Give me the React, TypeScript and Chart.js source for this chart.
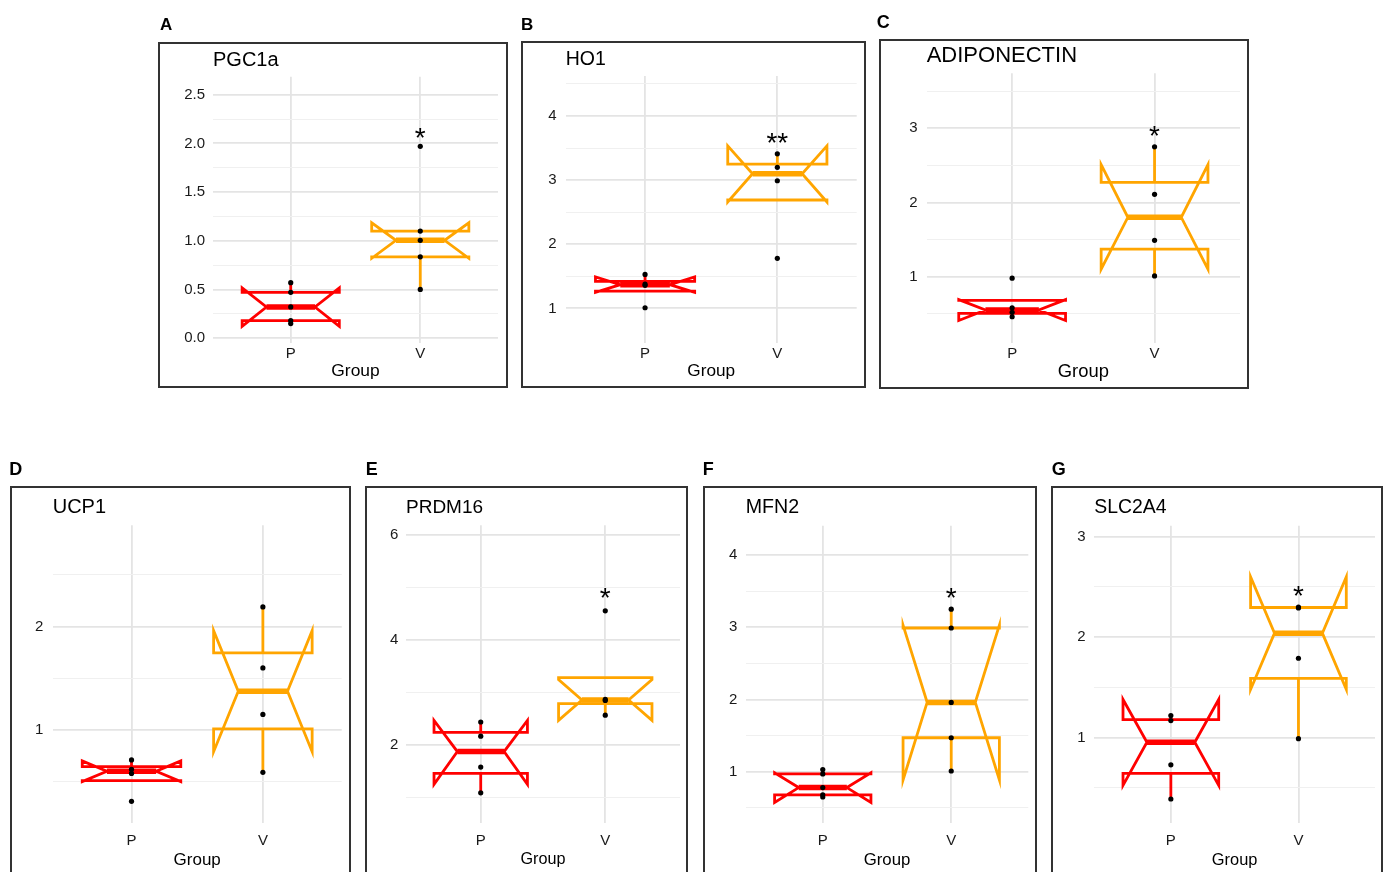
import React, { useEffect, useRef } from 'react';
import { Chart, registerables } from 'chart.js';

Chart.register(...registerables);

// ---------------- data ----------------
const PANEL_LETTERS = ['A', 'B', 'C', 'D', 'E', 'F', 'G'];
const GENES = ['PGC1a', 'HO1', 'ADIPONECTIN', 'UCP1', 'PRDM16', 'MFN2', 'SLC2A4'];
const GROUPS = ['P', 'V'];
const X_TITLE = 'Group';

const P_POINTS = [
  [0.57, 0.47, 0.32, 0.18, 0.15],
  [1.53, 1.38, 1.36, 1.01],
  [0.98, 0.58, 0.52, 0.46],
  [0.71, 0.62, 0.58, 0.31],
  [2.44, 2.17, 1.58, 1.09],
  [1.03, 0.97, 0.78, 0.68, 0.65],
  [1.22, 1.17, 0.73, 0.39],
];
const V_POINTS = [
  [1.97, 1.1, 1.005, 0.835, 0.5],
  [3.41, 3.2, 2.99, 1.78],
  [2.75, 2.11, 1.49, 1.01],
  [2.19, 1.6, 1.15, 0.59],
  [4.56, 2.87, 2.85, 2.57],
  [3.25, 2.99, 1.96, 1.47, 1.01],
  [2.3, 2.29, 1.79, 0.99],
];

const P_Q1 = [0.18, 1.27, 0.505, 0.51, 1.46, 0.68, 0.645];
const P_MEDIAN = [0.32, 1.37, 0.55, 0.6, 1.875, 0.78, 0.955];
const P_Q3 = [0.47, 1.42, 0.68, 0.645, 2.24, 0.97, 1.18];
const P_NOTCH_LO = [0.12, 1.25, 0.41, 0.5, 1.25, 0.575, 0.525];
const P_NOTCH_HI = [0.515, 1.49, 0.69, 0.7, 2.47, 0.985, 1.38];
const P_WHISKER_LO = [0.15, 1.27, 0.46, 0.51, 1.09, 0.65, 0.39];
const P_WHISKER_HI = [0.57, 1.53, 0.68, 0.71, 2.44, 1.03, 1.22];

const V_Q1 = [0.835, 2.69, 1.37, 1.01, 2.79, 1.47, 1.59];
const V_MEDIAN = [1.005, 3.1, 1.8, 1.375, 2.86, 1.96, 2.04];
const V_Q3 = [1.1, 3.25, 2.27, 1.745, 3.285, 2.99, 2.295];
const V_NOTCH_LO = [0.82, 2.66, 1.1, 0.79, 2.47, 0.886, 1.48];
const V_NOTCH_HI = [1.185, 3.535, 2.51, 1.96, 3.25, 3.03, 2.6];
const V_WHISKER_LO = [0.5, 2.69, 1.01, 0.59, 2.57, 1.01, 0.99];
const V_WHISKER_HI = [1.1, 3.41, 2.75, 2.19, 3.285, 3.25, 2.295];

const SIG_LABELS = ['*', '**', '*', '', '*', '*', '*'];
const SIG_Y = [2.11, 3.66, 2.96, 0, 4.9, 3.48, 2.46];

const Y_MIN = [-0.05, 0.46, 0.106, 0.1, 0.514, 0.29, 0.151];
const Y_MAX = [2.685, 4.624, 3.741, 2.98, 6.19, 4.406, 3.109];
const Y_MAJOR = [[0, 0.5, 1, 1.5, 2, 2.5], [1, 2, 3, 4], [1, 2, 3], [1, 2], [2, 4, 6], [1, 2, 3, 4], [1, 2, 3]];
const Y_MINOR = [[0.25, 0.75, 1.25, 1.75, 2.25], [1.5, 2.5, 3.5, 4.5], [0.5, 1.5, 2.5, 3.5], [0.5, 1.5, 2.5], [1, 3, 5], [0.5, 1.5, 2.5, 3.5], [0.5, 1.5, 2.5]];
const Y_DECIMALS = [1, 0, 0, 0, 0, 0, 0];

// ---------------- layout / style (page pixels) ----------------
const LAYOUT = [
  { box: [158, 42, 508, 388], plot: [213, 76.7, 498, 343], yLabelRight: 205, titleY: 60.3, titleSize: 20, groupSize: 17.4, tickY: 354, groupY: 371.7, letter: [160, 24.5], letterSize: 17 },
  { box: [521, 41, 866, 388], plot: [565.7, 76, 856.7, 343], yLabelRight: 556.7, titleY: 60, titleSize: 19.5, groupSize: 17.2, tickY: 354, groupY: 371.7, letter: [521, 24.5], letterSize: 17 },
  { box: [879, 39, 1249, 389], plot: [926.7, 73.3, 1240, 343], yLabelRight: 917.7, titleY: 56.3, titleSize: 22, groupSize: 18.4, tickY: 353.5, groupY: 371.7, letter: [876.7, 21.7], letterSize: 18 },
  { box: [10, 486, 351, 880], plot: [52.7, 525.3, 341.7, 823], yLabelRight: 43.3, titleY: 507.5, titleSize: 20, groupSize: 17, tickY: 840.7, groupY: 860, letter: [9.3, 469], letterSize: 18 },
  { box: [365, 486, 688, 880], plot: [406, 525.3, 680, 823], yLabelRight: 398.3, titleY: 507.5, titleSize: 19, groupSize: 16.2, tickY: 840.7, groupY: 860, letter: [365.7, 469], letterSize: 18 },
  { box: [703, 486, 1037, 880], plot: [745.7, 525.7, 1028.3, 823], yLabelRight: 737.3, titleY: 507.5, titleSize: 19.6, groupSize: 16.8, tickY: 840.7, groupY: 860, letter: [702.7, 469], letterSize: 18 },
  { box: [1051, 486, 1383, 880], plot: [1094.3, 525.7, 1375, 823], yLabelRight: 1085.7, titleY: 507.5, titleSize: 19.4, groupSize: 16.4, tickY: 840.7, groupY: 860, letter: [1051.7, 469], letterSize: 18 },
];

const FONT = "'Liberation Sans', Arial, Helvetica, sans-serif";
const COLORS = ['#FF0000', '#FFA500'];
const BOX_HALF = 0.375;
const NOTCH_INDENT = 0.1875;
const TICK_SIZE = 15;
const STAR_SIZE = 28;
const GRID_MAJOR = '#e4e4e4';
const GRID_MINOR = '#f0f0f0';

function Panel({ i }: { i: number }) {
  const ref = useRef<HTMLCanvasElement | null>(null);
  const L = LAYOUT[i];
  const bl = Math.round(L.box[0]);
  const bt = Math.round(L.box[1]);
  const cw = Math.round(L.box[2]) - bl;
  const ch = Math.round(L.box[3]) - bt;

  useEffect(() => {
    const [pl, pt, pr, pb] = L.plot;
    const titleLH = L.titleSize * 1.2;
    const groupLH = L.groupSize * 1.2;
    const tickLH = TICK_SIZE * 1.2;
    const xAxisH = L.groupY - pb + groupLH / 2;
    const titlePadTop = L.titleY - bt - titleLH / 2;
    const titlePadBottom = pt - bt - titlePadTop - titleLH;
    const majors = Y_MAJOR[i];
    const minors = Y_MINOR[i];
    const yTicks = [...majors, ...minors].sort((a, b) => a - b);

    const stats = [
      { q1: P_Q1[i], med: P_MEDIAN[i], q3: P_Q3[i], nlo: P_NOTCH_LO[i], nhi: P_NOTCH_HI[i], wlo: P_WHISKER_LO[i], whi: P_WHISKER_HI[i] },
      { q1: V_Q1[i], med: V_MEDIAN[i], q3: V_Q3[i], nlo: V_NOTCH_LO[i], nhi: V_NOTCH_HI[i], wlo: V_WHISKER_LO[i], whi: V_WHISKER_HI[i] },
    ];

    const lineBase = { showLine: true, pointRadius: 0, pointHoverRadius: 0, fill: false, tension: 0 };
    const datasets: any[] = [];
    datasets.push({
      label: 'points',
      data: [...P_POINTS[i].map((y) => ({ x: 1, y })), ...V_POINTS[i].map((y) => ({ x: 2, y }))],
      showLine: false,
      pointRadius: 2.6,
      pointHoverRadius: 2.6,
      pointBackgroundColor: '#000',
      pointBorderColor: '#000',
      pointBorderWidth: 0,
    });
    stats.forEach((s, g) => {
      const x = g + 1;
      datasets.push({
        ...lineBase,
        label: 'median ' + GROUPS[g],
        data: [{ x: x - NOTCH_INDENT, y: s.med }, { x: x + NOTCH_INDENT, y: s.med }],
        borderColor: COLORS[g],
        borderWidth: 5.5,
        borderCapStyle: 'butt',
      });
    });
    stats.forEach((s, g) => {
      const x = g + 1;
      const a = x - BOX_HALF;
      const b = x + BOX_HALF;
      datasets.push({
        ...lineBase,
        label: 'box ' + GROUPS[g],
        data: [
          { x: a, y: s.q3 }, { x: a, y: s.nhi }, { x: a + NOTCH_INDENT, y: s.med }, { x: a, y: s.nlo }, { x: a, y: s.q1 },
          { x: b, y: s.q1 }, { x: b, y: s.nlo }, { x: b - NOTCH_INDENT, y: s.med }, { x: b, y: s.nhi }, { x: b, y: s.q3 },
          { x: a, y: s.q3 },
        ],
        borderColor: COLORS[g],
        borderWidth: 2.8,
        borderJoinStyle: 'miter',
        borderCapStyle: 'square',
      });
    });
    stats.forEach((s, g) => {
      const x = g + 1;
      datasets.push({ ...lineBase, label: 'whisker hi ' + GROUPS[g], data: [{ x, y: s.q3 }, { x, y: s.whi }], borderColor: COLORS[g], borderWidth: 2.8, borderCapStyle: 'butt' });
      datasets.push({ ...lineBase, label: 'whisker lo ' + GROUPS[g], data: [{ x, y: s.q1 }, { x, y: s.wlo }], borderColor: COLORS[g], borderWidth: 2.8, borderCapStyle: 'butt' });
    });

    const sigPlugin = {
      id: 'sig' + i,
      afterDatasetsDraw(chart: any) {
        const label = SIG_LABELS[i];
        if (!label) return;
        const ctx = chart.ctx;
        const x = chart.scales.x.getPixelForValue(2);
        const y = chart.scales.y.getPixelForValue(SIG_Y[i]);
        ctx.save();
        ctx.font = `${STAR_SIZE}px ${FONT}`;
        ctx.fillStyle = '#000';
        ctx.textAlign = 'center';
        ctx.textBaseline = 'alphabetic';
        const m = ctx.measureText(label);
        const base = y + (m.actualBoundingBoxAscent - m.actualBoundingBoxDescent) / 2;
        ctx.fillText(label, x, base);
        ctx.restore();
      },
    };

    const chart = new Chart(ref.current as HTMLCanvasElement, {
      type: 'scatter',
      data: { datasets },
      plugins: [sigPlugin],
      options: {
        responsive: false,
        animation: false,
        devicePixelRatio: 1,
        events: [],
        font: { family: FONT },
        layout: { padding: { left: 0, top: 0, right: bl + cw - pr, bottom: bt + ch - pb - xAxisH } },
        plugins: {
          legend: { display: false },
          tooltip: { enabled: false },
          title: {
            display: true,
            text: GENES[i],
            align: 'start',
            fullSize: false,
            color: '#000',
            font: { family: FONT, size: L.titleSize, weight: 'normal', lineHeight: 1.2 },
            padding: { top: titlePadTop, bottom: titlePadBottom },
          },
        },
        scales: {
          x: {
            type: 'linear',
            min: 0.4,
            max: 2.6,
            afterBuildTicks: (s: any) => { s.ticks = [1, 2].map((v) => ({ value: v })); },
            afterFit: (s: any) => { s.height = xAxisH; },
            ticks: {
              autoSkip: false,
              maxRotation: 0,
              padding: L.tickY - pb - tickLH / 2,
              color: '#1a1a1a',
              font: { family: FONT, size: TICK_SIZE, lineHeight: 1.2 },
              callback: (v: any) => GROUPS[Math.round(Number(v)) - 1] ?? '',
            },
            grid: { color: GRID_MAJOR, lineWidth: 1.8, drawTicks: false },
            border: { display: false },
            title: { display: true, text: X_TITLE, color: '#000', font: { family: FONT, size: L.groupSize, lineHeight: 1.2 }, padding: 0 },
          },
          y: {
            type: 'linear',
            min: Y_MIN[i],
            max: Y_MAX[i],
            afterBuildTicks: (s: any) => { s.ticks = yTicks.map((v) => ({ value: v })); },
            afterFit: (s: any) => { s.width = pl - bl; },
            ticks: {
              autoSkip: false,
              padding: pl - L.yLabelRight,
              color: '#1a1a1a',
              font: { family: FONT, size: TICK_SIZE, lineHeight: 1.2 },
              callback: (v: any) => (majors.includes(Number(v)) ? Number(v).toFixed(Y_DECIMALS[i]) : ''),
            },
            grid: {
              drawTicks: false,
              color: (c: any) => (c.tick && majors.includes(c.tick.value) ? GRID_MAJOR : GRID_MINOR),
              lineWidth: (c: any) => (c.tick && majors.includes(c.tick.value) ? 1.8 : 1),
            },
            border: { display: false },
          },
        },
      } as any,
    });
    return () => chart.destroy();
  }, []);

  return (
    <>
      <canvas ref={ref} width={cw} height={ch} style={{ position: 'absolute', left: bl, top: bt, width: cw, height: ch }} />
      <div style={{ position: 'absolute', left: bl, top: bt, width: cw, height: ch, border: '2px solid #333', boxSizing: 'border-box', pointerEvents: 'none' }} />
      <div
        style={{
          position: 'absolute',
          left: L.letter[0],
          top: L.letter[1] - 0.4885 * L.letterSize,
          font: `bold ${L.letterSize}px ${FONT}`,
          lineHeight: `${L.letterSize}px`,
          color: '#000',
          whiteSpace: 'nowrap',
        }}
      >
        {PANEL_LETTERS[i]}
      </div>
    </>
  );
}

export default function App() {
  return (
    <div style={{ position: 'fixed', left: 0, top: 0, width: 1388, height: 872, overflow: 'hidden', background: '#fff' }}>
      {GENES.map((_, i) => (
        <Panel key={i} i={i} />
      ))}
    </div>
  );
}
